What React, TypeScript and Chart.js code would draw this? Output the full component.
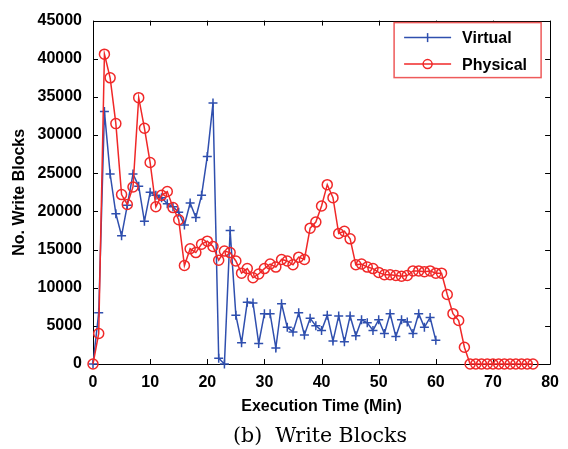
import { useEffect, useRef } from 'react';
import { Chart, registerables } from 'chart.js';

Chart.register(...registerables);

// Write blocks per minute of execution
const physicalMinutes = [
  0, 1, 2, 3, 4, 5, 6, 7, 8, 9, 10, 11, 12, 13, 14, 15, 16, 17, 18, 19,
  20, 21, 22, 23, 24, 25, 26, 27, 28, 29, 30, 31, 32, 33, 34, 35, 36, 37, 38, 39,
  40, 41, 42, 43, 44, 45, 46, 47, 48, 49, 50, 51, 52, 53, 54, 55, 56, 57, 58, 59,
  60, 61, 62, 63, 64, 65, 66, 67, 68, 69, 70, 71, 72, 73, 74, 75, 76, 77,
];
const physicalBlocks = [
  0, 4000, 40600, 37500, 31500, 22200, 20900, 23200, 34900, 30900,
  26400, 20600, 22100, 22600, 20500, 18900, 12900, 15100, 14600, 15700,
  16100, 15400, 13600, 14800, 14600, 13500, 11900, 12500, 11300, 11800,
  12500, 13100, 12700, 13700, 13500, 13000, 14000, 13700, 17800, 18600,
  20700, 23500, 21800, 17100, 17400, 16400, 13000, 13100, 12700, 12500,
  12000, 11700, 11700, 11600, 11500, 11600, 12200, 12200, 12100, 12200,
  11900, 11900, 9100, 6600, 5700, 2200, 0, 0, 0, 0,
  0, 0, 0, 0, 0, 0, 0, 0,
];

const virtualMinutes = [
  0, 1, 2, 3, 4, 5, 6, 7, 8, 9, 10, 11, 12, 13, 14, 15, 16, 17, 18, 19,
  20, 21, 22, 23, 24, 25, 26, 27, 28, 29, 30, 31, 32, 33, 34, 35, 36, 37, 38, 39,
  40, 41, 42, 43, 44, 45, 46, 47, 48, 49, 50, 51, 52, 53, 54, 55, 56, 57, 58, 59,
  60,
];
const virtualBlocks = [
  0, 6700, 33100, 24900, 19700, 16800, 20800, 24900, 23300, 18700,
  22500, 22100, 21800, 21000, 20600, 19900, 18200, 21100, 19200, 22100,
  27200, 34200, 750, 0, 17500, 6400, 2800, 8100, 8000, 2700,
  6600, 6600, 2100, 7900, 4800, 4200, 6700, 3800, 6000, 5000,
  4400, 6400, 3000, 6300, 2900, 6300, 3700, 5800, 5400, 4400,
  5800, 4000, 6600, 3600, 5800, 5500, 4000, 6600, 4800, 6100,
  3100,
];

const xTicks = [0, 10, 20, 30, 40, 50, 60, 70, 80];
const yTicks = [0, 5000, 10000, 15000, 20000, 25000, 30000, 35000, 40000, 45000];

const seriesNames = ['Virtual', 'Physical'];
const xTitle = 'Execution Time (Min)';
const yTitle = 'No. Write Blocks';
const caption = '(b)  Write Blocks';

const BLUE = '#2f4fae';
const RED = '#f02828';
const SANS = "'Liberation Sans', Arial, Helvetica, sans-serif";

// Closed box around the plot with inward tick marks on all four sides
const framePlugin = {
  id: 'frame',
  beforeDatasetsDraw(chart: any) {
    const { ctx, chartArea: a, scales } = chart;
    const x = scales.x;
    const y = scales.y;
    const len = 5;
    ctx.save();
    ctx.strokeStyle = '#000';
    ctx.lineWidth = 1;
    ctx.beginPath();
    ctx.rect(Math.round(a.left) + 0.5, Math.round(a.top) + 0.5,
      Math.round(a.right - a.left), Math.round(a.bottom - a.top));
    for (const v of xTicks) {
      const px = Math.round(x.getPixelForValue(v)) + 0.5;
      ctx.moveTo(px, a.bottom);
      ctx.lineTo(px, a.bottom - len);
      ctx.moveTo(px, a.top);
      ctx.lineTo(px, a.top + len);
    }
    for (const v of yTicks) {
      const py = Math.round(y.getPixelForValue(v)) + 0.5;
      ctx.moveTo(a.left, py);
      ctx.lineTo(a.left + len, py);
      ctx.moveTo(a.right, py);
      ctx.lineTo(a.right - len, py);
    }
    ctx.stroke();
    ctx.restore();
  },
};

// Boxed legend in the upper right corner of the plot
const legendPlugin = {
  id: 'boxLegend',
  afterDraw(chart: any) {
    const { ctx, chartArea: a } = chart;
    const boxL = a.right - 156;
    const boxT = a.top + 2;
    const boxW = 147;
    const boxH = 55;
    ctx.save();
    ctx.fillStyle = '#fff';
    ctx.fillRect(boxL, boxT, boxW, boxH);
    ctx.strokeStyle = '#ee5a5a';
    ctx.lineWidth = 1.5;
    ctx.strokeRect(boxL, boxT, boxW, boxH);

    const rows = [
      { label: seriesNames[0], color: BLUE, marker: 'cross', y: boxT + 15 },
      { label: seriesNames[1], color: RED, marker: 'circle', y: boxT + 41.5 },
    ];
    const lx0 = boxL + 10;
    const lx1 = boxL + 57;
    for (const r of rows) {
      ctx.strokeStyle = r.color;
      ctx.lineWidth = 1.5;
      ctx.beginPath();
      ctx.moveTo(lx0, r.y);
      ctx.lineTo(lx1, r.y);
      ctx.stroke();
      const mx = (lx0 + lx1) / 2;
      ctx.beginPath();
      if (r.marker === 'cross') {
        ctx.moveTo(mx, r.y - 4.5);
        ctx.lineTo(mx, r.y + 4.5);
      } else {
        ctx.arc(mx, r.y, 4.5, 0, Math.PI * 2);
      }
      ctx.stroke();
      ctx.fillStyle = '#000';
      ctx.font = `bold 16px ${SANS}`;
      ctx.textBaseline = 'middle';
      ctx.textAlign = 'left';
      ctx.fillText(r.label, boxL + 68, r.y + 1);
    }
    ctx.restore();
  },
};

// Sub-figure caption under the axis title
const captionPlugin = {
  id: 'caption',
  afterDraw(chart: any) {
    const { ctx } = chart;
    ctx.save();
    ctx.fillStyle = '#000';
    ctx.font = "20.5px 'DejaVu Serif', 'Liberation Serif', serif";
    ctx.textAlign = 'center';
    ctx.textBaseline = 'middle';
    ctx.fillText(caption, 320, 437);
    ctx.restore();
  },
};

export default function App() {
  const canvasRef = useRef<HTMLCanvasElement | null>(null);

  useEffect(() => {
    document.body.style.margin = '0';
    const canvas = canvasRef.current;
    if (!canvas) return;

    const chart = new Chart(canvas, {
      type: 'line',
      data: {
        datasets: [
          {
            label: seriesNames[0],
            data: virtualMinutes.map((m, i) => ({ x: m, y: virtualBlocks[i] })),
            borderColor: BLUE,
            backgroundColor: 'transparent',
            borderWidth: 1.5,
            pointStyle: 'cross',
            pointRadius: 4.5,
            pointBorderWidth: 1.5,
            pointBorderColor: BLUE,
            tension: 0,
            clip: false,
            order: 1,
          },
          {
            label: seriesNames[1],
            data: physicalMinutes.map((m, i) => ({ x: m, y: physicalBlocks[i] })),
            borderColor: RED,
            backgroundColor: 'transparent',
            borderWidth: 1.5,
            pointStyle: 'circle',
            pointRadius: 5,
            pointBorderWidth: 1.5,
            pointBorderColor: RED,
            pointBackgroundColor: 'transparent',
            tension: 0,
            clip: false,
            order: 0,
          },
        ],
      },
      options: {
        responsive: false,
        animation: false,
        events: [],
        layout: { padding: { left: 0, right: 16, top: 20, bottom: 25 } },
        plugins: {
          legend: { display: false },
          tooltip: { enabled: false },
          title: { display: false },
        },
        scales: {
          x: {
            type: 'linear',
            min: 0,
            max: 80,
            afterFit(scale: any) {
              scale.height = 60;
            },
            afterBuildTicks(scale: any) {
              scale.ticks = xTicks.map((v) => ({ value: v }));
            },
            grid: { display: false, drawTicks: false },
            border: { display: false },
            ticks: {
              color: '#000',
              padding: 9,
              maxRotation: 0,
              font: { family: SANS, size: 16, weight: 'bold' },
            },
            title: {
              display: true,
              text: xTitle,
              color: '#000',
              padding: { top: 0, bottom: 8 },
              font: { family: SANS, size: 16, weight: 'bold' },
            },
          },
          y: {
            type: 'linear',
            min: 0,
            max: 45000,
            afterFit(scale: any) {
              scale.width = 93;
            },
            afterBuildTicks(scale: any) {
              scale.ticks = yTicks.map((v) => ({ value: v }));
            },
            grid: { display: false, drawTicks: false },
            border: { display: false },
            ticks: {
              color: '#000',
              padding: 11,
              font: { family: SANS, size: 16, weight: 'bold' },
              callback: (v: any) => String(v),
            },
            title: {
              display: true,
              text: yTitle,
              color: '#000',
              padding: { top: 10, bottom: 0 },
              font: { family: SANS, size: 16, weight: 'bold' },
            },
          },
        },
      },
      plugins: [framePlugin, legendPlugin, captionPlugin],
    });

    return () => chart.destroy();
  }, []);

  return (
    <canvas
      ref={canvasRef}
      width={568}
      height={449}
      style={{ display: 'block', width: 568, height: 449 }}
    />
  );
}
